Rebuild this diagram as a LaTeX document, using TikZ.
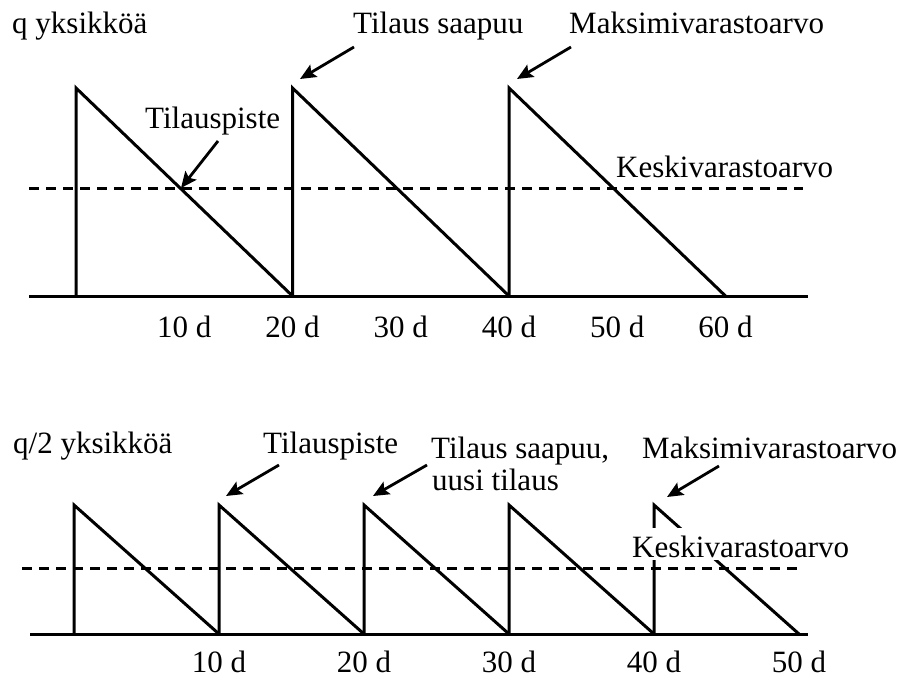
\documentclass[tikz,border=0pt]{standalone}
\usepackage{fontspec}
\setmainfont{Liberation Serif}
\usetikzlibrary{arrows.meta}

\begin{document}
\begin{tikzpicture}[
  x=1pt, y=-1pt,
  every node/.style={font=\fontsize{31}{32}\selectfont, inner sep=0pt},
  lbl/.style={anchor=base west},
  tick/.style={anchor=base},
  graph/.style={line width=3pt},
  mean/.style={line width=3pt, dash pattern=on 10pt off 7pt},
  pointer/.style={-{Stealth[length=16pt,width=14pt,inset=3pt]}, line width=2.8pt}
]
\useasboundingbox (0,0) rectangle (904,680);

% ---- upper chart: q units, 20 d cycle
\coordinate (ua0) at (29,296);
\coordinate (ua1) at (808,296);
\coordinate (um0) at (29,188);
\coordinate (um1) at (803,188);
\draw[graph] (ua0) -- (ua1);
\draw[mean] (um0) -- (um1);
\foreach \k in {0,1,2}{
  \coordinate (up\k) at ({76+216.5*\k},88);
  \draw[graph] ({76+216.5*\k},296) -- (up\k) -- ({76+216.5*(\k+1)},296);
}
\foreach \d in {1,...,6}
  \node[tick] (ut\d) at ({76+108.25*\d},337) {\d0 d};

\node[lbl] (uq) at (12,33) {q yksikköä};
\node[lbl] (uarr) at (353,33) {Tilaus saapuu};
\node[lbl] (umax) at (569,33) {Maksimivarastoarvo};
\node[lbl] (uord) at (145,128) {Tilauspiste};
\node[lbl] (umean) at (616,177) {Keskivarastoarvo};

\coordinate (uarrs) at (354,47);
\coordinate (uarrt) at (300,79);
\coordinate (umaxs) at (571,47);
\coordinate (umaxt) at (517,79);
\coordinate (uords) at (218,141);
\coordinate (uordt) at (181,188);
\draw[pointer] (uarrs) -- (uarrt);
\draw[pointer] (umaxs) -- (umaxt);
\draw[pointer] (uords) -- (uordt);

% ---- lower chart: q/2 units, 10 d cycle
\coordinate (la0) at (30,634);
\coordinate (la1) at (808,634);
\coordinate (lm0) at (22,568);
\coordinate (lm1) at (797,568);
\draw[graph] (la0) -- (la1);
\draw[mean] (lm0) -- (lm1);
\foreach \k in {0,...,4}{
  \coordinate (lp\k) at ({74+145*\k},505);
  \draw[graph] ({74+145*\k},634) -- (lp\k) -- ({74+145*(\k+1)},634);
}
\foreach \d in {1,...,5}
  \node[tick] (lt\d) at ({74+145*\d},672) {\d0 d};

\node[lbl] (lq) at (13,453) {q/2 yksikköä};
\node[lbl] (lord) at (263,453) {Tilauspiste};
\node[lbl] (larr) at (431,458) {Tilaus saapuu,};
\node[lbl] (lnew) at (432,490) {uusi tilaus};
\node[lbl] (lmax) at (642,458) {Maksimivarastoarvo};
\node[lbl, fill=white, text height=29pt, text depth=3pt, inner xsep=2pt] (lmean) at (630,557) {Keskivarastoarvo};

\coordinate (lords) at (279,465);
\coordinate (lordt) at (226,496);
\coordinate (larrs) at (427,465);
\coordinate (larrt) at (373,496);
\coordinate (lmaxs) at (719,466);
\coordinate (lmaxt) at (667,497);
\draw[pointer] (lords) -- (lordt);
\draw[pointer] (larrs) -- (larrt);
\draw[pointer] (lmaxs) -- (lmaxt);
\end{tikzpicture}
\end{document}
